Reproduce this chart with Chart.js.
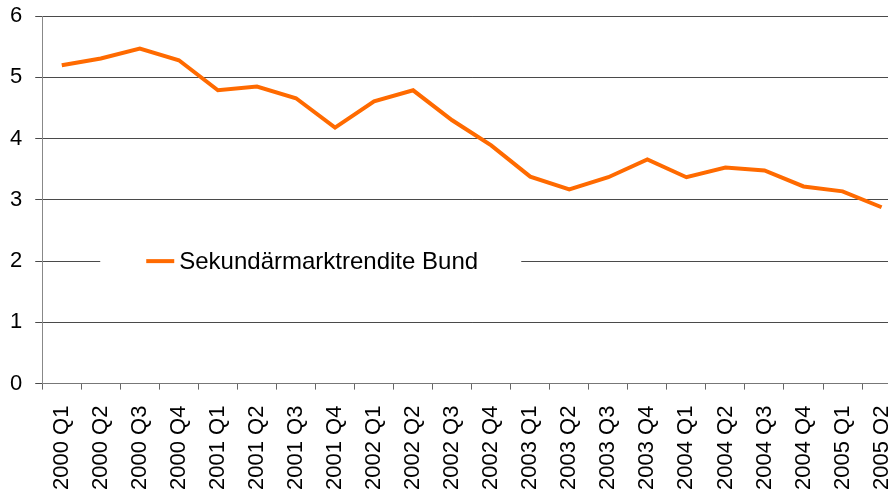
<!DOCTYPE html>
<html>
<head>
<meta charset="utf-8">
<script src="https://cdn.jsdelivr.net/npm/chart.js@4/dist/chart.umd.min.js"></script>
<style>
  html, body { margin: 0; padding: 0; background: #fff; }
  #clip { width: 888px; height: 491px; overflow: hidden; position: relative; }
  /* the original plot runs past the right edge of the picture */
  #wrap { position: absolute; left: -14px; top: -10px; width: 938px; height: 519px; }
</style>
</head>
<body>
<div id="clip"><div id="wrap"><canvas id="yieldChart"></canvas></div></div>
<script>
const quarters = [
  '2000 Q1', '2000 Q2', '2000 Q3', '2000 Q4',
  '2001 Q1', '2001 Q2', '2001 Q3', '2001 Q4',
  '2002 Q1', '2002 Q2', '2002 Q3', '2002 Q4',
  '2003 Q1', '2003 Q2', '2003 Q3', '2003 Q4',
  '2004 Q1', '2004 Q2', '2004 Q3', '2004 Q4',
  '2005 Q1', '2005 Q2'
];
const bundYield = [
  5.20, 5.31, 5.47, 5.28,
  4.79, 4.85, 4.66, 4.18,
  4.61, 4.79, 4.30, 3.89,
  3.38, 3.17, 3.37, 3.66,
  3.37, 3.53, 3.48, 3.22,
  3.14, 2.88
];
const seriesName = 'Sekundärmarktrendite Bund';
const yTicks = [0, 1, 2, 3, 4, 5, 6];

const FONT = "'Liberation Sans', Arial, sans-serif";
const ORANGE = '#FF6A00';

// legend drawn inside the plot, over the gridline at 2
const innerLegend = {
  id: 'innerLegend',
  afterDatasetsDraw(chart) {
    const { ctx, chartArea, scales } = chart;
    const y = scales.y.getPixelForValue(2);
    const x0 = chartArea.left + 58;
    ctx.save();
    ctx.fillStyle = '#fff';
    ctx.fillRect(x0, y - 17, 421, 34);
    ctx.strokeStyle = ORANGE;
    ctx.lineWidth = 4;
    ctx.beginPath();
    ctx.moveTo(x0 + 46, y);
    ctx.lineTo(x0 + 74, y);
    ctx.stroke();
    ctx.font = `24px ${FONT}`;
    ctx.fillStyle = '#000';
    ctx.textBaseline = 'middle';
    ctx.fillText(seriesName, x0 + 79, y + 1);
    ctx.restore();
  }
};

const ctx = document.getElementById('yieldChart').getContext('2d');
new Chart(ctx, {
  type: 'line',
  data: {
    labels: quarters,
    datasets: [{
      label: seriesName,
      data: bundYield,
      borderColor: ORANGE,
      borderWidth: 4,
      pointRadius: 0,
      tension: 0,
      fill: false
    }]
  },
  options: {
    responsive: true,
    maintainAspectRatio: false,
    animation: false,
    layout: { padding: { top: 4, right: 0, left: 11, bottom: 3 } },
    scales: {
      x: {
        offset: true,
        grid: {
          offset: true,
          drawOnChartArea: false,
          color: '#666',
          tickLength: 6
        },
        border: { color: '#777', width: 1 },
        ticks: {
          color: '#000',
          font: { family: FONT, size: 22 },
          minRotation: 90,
          maxRotation: 90,
          autoSkip: false,
          padding: 16
        }
      },
      y: {
        min: 0,
        max: 6,
        afterBuildTicks: axis => { axis.ticks = yTicks.map(v => ({ value: v })); },
        grid: {
          color: '#4a4a4a',
          tickLength: 7
        },
        border: { color: '#888', width: 1 },
        ticks: {
          color: '#000',
          font: { family: FONT, size: 22 },
          padding: 13
        }
      }
    },
    plugins: {
      legend: { display: false },
      tooltip: { enabled: false }
    }
  },
  plugins: [innerLegend]
});
</script>
</body>
</html>
